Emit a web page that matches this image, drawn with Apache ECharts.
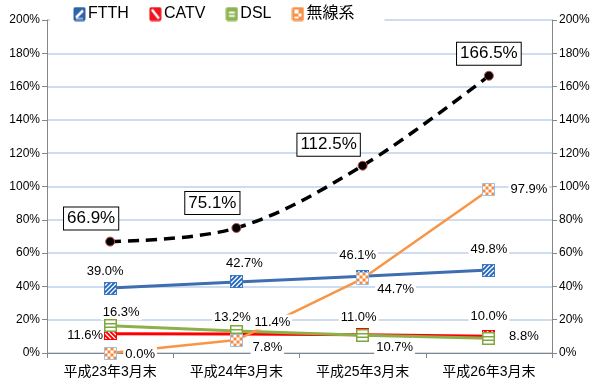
<!DOCTYPE html>
<html><head><meta charset="utf-8">
<script src="https://cdn.jsdelivr.net/npm/echarts@6/dist/echarts.min.js"></script>
<style>html,body{margin:0;padding:0;background:#fff}#c{width:600px;height:384px}</style>
</head><body><div id="c"></div>
<script>
const categories = ['平成23年3月末','平成24年3月末','平成25年3月末','平成26年3月末'];
const ftth = [39.0, 42.7, 46.1, 49.8];
const catv = [11.6, 11.4, 11.0, 10.0];
const dsl = [16.3, 13.2, 10.7, 8.8];
const wireless = [0.0, 7.8, 44.7, 97.9];
const total = [66.9, 75.1, 112.5, 166.5];
const seriesNames = ['FTTH','CATV','DSL','無線系'];
const yTicks = {min: 0, max: 200, interval: 20};

// label offsets (styling)
const offFTTH = [[-5,-17],[8,-18],[-5,-21],[0,-21]];
const offCATV = [[-25,2],[36,-12],[-4,-17],[0,-20]];
const offDSL = [[11,-13],[-4,-14],[32,12],[35,-2]];
const offWL = [[30,1],[31,7],[33,11],[40,-1]];
const offTot = [[-19,-23],[-24,-25],[-34,-21],[0,-22]];

function roundRect(g, x, y, w, h, r) {
  g.beginPath();
  g.moveTo(x + r, y); g.lineTo(x + w - r, y); g.quadraticCurveTo(x + w, y, x + w, y + r);
  g.lineTo(x + w, y + h - r); g.quadraticCurveTo(x + w, y + h, x + w - r, y + h);
  g.lineTo(x + r, y + h); g.quadraticCurveTo(x, y + h, x, y + h - r);
  g.lineTo(x, y + r); g.quadraticCurveTo(x, y, x + r, y); g.closePath();
}

function legendIcon(kind) {
  const w = 13, h = 15;
  const c = document.createElement('canvas'); c.width = w; c.height = h;
  const g = c.getContext('2d');
  const col = { ftth: '#2F63A8', catv: '#F0141E', dsl: '#8FB352', wl: '#F7924A' }[kind];
  roundRect(g, 0.5, 0.5, w - 1, h - 1, 2); g.fillStyle = col; g.fill();
  g.strokeStyle = '#fff'; g.fillStyle = '#fff';
  if (kind === 'ftth') {
    g.lineWidth = 2.5; g.beginPath(); g.moveTo(3, h - 4); g.lineTo(w - 3, 4); g.stroke();
    g.lineWidth = 1; g.beginPath(); g.moveTo(3, h-3); g.lineTo(w-3, h-3); g.stroke();
  } else if (kind === 'catv') {
    g.lineWidth = 2.5; g.beginPath(); g.moveTo(3, 3); g.lineTo(w - 3, h - 3); g.stroke();
  } else if (kind === 'dsl') {
    g.fillRect(3.5, 5, w - 7, 1.8);
    g.fillRect(3.5, 8.5, w - 7, 1.8);
  } else {
    g.fillRect(3, 3, 4, 4);
    g.fillRect(7, 7, 3, 3);
    g.fillRect(3, 10, 4, 2);
  }
  return 'image://' + c.toDataURL();
}

// vector marker drawn through the category/value axes
const MS = 13;
function markerRender(kind) {
  return function (params, api) {
    const p = api.coord([api.value(0), api.value(1)]);
    const x0 = Math.round(p[0] - MS / 2), y0 = Math.round(p[1] - MS / 2);
    const ch = [];
    if (kind === 'ftth' || kind === 'catv') {
      const col = kind === 'ftth' ? '#2368BA' : '#FF0000';
      ch.push({ type: 'rect', shape: { x: x0, y: y0, width: MS, height: MS }, style: { fill: col } });
      const ix = x0 + 1, iy = y0 + 1, is = MS - 2;
      for (let d = 2.5; d < 2 * is; d += 4.5) {
        let a, b;
        if (d <= is) { a = [ix, iy + d]; b = [ix + d, iy]; }
        else { a = [ix + d - is, iy + is]; b = [ix + is, iy + d - is]; }
        if (kind === 'catv') { a = [2 * ix + is - a[0], a[1]]; b = [2 * ix + is - b[0], b[1]]; }
        ch.push({ type: 'line', shape: { x1: a[0], y1: a[1], x2: b[0], y2: b[1] },
          style: { stroke: '#fff', lineWidth: 1.15 } });
      }
      ch.push({ type: 'rect', shape: { x: x0 + 0.5, y: y0 + 0.5, width: MS - 1, height: MS - 1 },
        style: { fill: null, stroke: kind === 'ftth' ? '#3D7CC6' : '#FF0000', lineWidth: 1 } });
    } else if (kind === 'dsl') {
      ch.push({ type: 'rect', shape: { x: x0 + 0.75, y: y0 + 0.75, width: MS - 1.5, height: MS - 1.5 },
        style: { fill: '#fff', stroke: '#7FA83C', lineWidth: 1.5 } });
      ch.push({ type: 'rect', shape: { x: x0 + 1, y: y0 + 4, width: MS - 2, height: 1.5 }, style: { fill: '#7FA83C' } });
      ch.push({ type: 'rect', shape: { x: x0 + 1, y: y0 + 7.5, width: MS - 2, height: 1.5 }, style: { fill: '#7FA83C' } });
    } else {
      ch.push({ type: 'rect', shape: { x: x0, y: y0, width: MS, height: MS }, style: { fill: '#fff' } });
      const cs = (MS - 1) / 4;
      for (let r = 0; r < 4; r++) for (let q = 0; q < 4; q++) {
        if ((r + q) % 2 === 0) ch.push({ type: 'rect',
          shape: { x: x0 + 0.5 + q * cs, y: y0 + 0.5 + r * cs, width: cs, height: cs }, style: { fill: '#F58A3C' } });
      }
      ch.push({ type: 'rect', shape: { x: x0 + 0.5, y: y0 + 0.5, width: MS - 1, height: MS - 1 },
        style: { fill: null, stroke: '#9DBFE6', lineWidth: 1 } });
    }
    return { type: 'group', children: ch };
  };
}

const font = '"Liberation Sans", Arial, "Noto Sans CJK JP", sans-serif';
function lblData(vals, offs) {
  return vals.map((v, i) => ({ value: v, label: { offset: offs[i] } }));
}
const baseLabel = {
  show: true, position: 'inside', align: 'center', verticalAlign: 'middle',
  fontFamily: font, fontSize: 13, color: '#000',
  backgroundColor: '#fff', padding: [1, 2],
  formatter: p => p.value.toFixed(1) + '%'
};

function lineSeries(name, vals, offs, color, width) {
  return {
    name, type: 'line', data: lblData(vals, offs),
    symbol: 'rect', symbolSize: 2,
    lineStyle: { color, width: width || 3 },
    itemStyle: { color },
    label: baseLabel,
    emphasis: { disabled: true }, z: 2
  };
}
function markerSeries(name, vals, kind) {
  return {
    name: name + '_marker', type: 'custom', renderItem: markerRender(kind),
    data: vals.map((v, i) => [i, v]), encode: { x: 0, y: 1 },
    silent: true, clip: false, z: 4
  };
}

const chart = echarts.init(document.getElementById('c'), null, { renderer: 'canvas' });
const option = {
  animation: false,
  grid: { left: 47, right: 48, top: 20, bottom: 31 },
  legend: {
    data: [
      { name: 'FTTH', icon: legendIcon('ftth') },
      { name: 'CATV', icon: legendIcon('catv') },
      { name: 'DSL', icon: legendIcon('dsl') },
      { name: '無線系', icon: legendIcon('wl') }
    ],
    left: 50, top: 3, itemWidth: 13, itemHeight: 15, itemGap: 20,
    backgroundColor: '#fff', padding: [3, 30, 3, 23],
    textStyle: { fontFamily: font, fontSize: 16, color: '#000', padding: [0,0,0,-3] },
    selectedMode: false
  },
  xAxis: {
    type: 'category', data: categories, boundaryGap: true,
    axisLine: { lineStyle: { color: '#868686', width: 1 } },
    axisTick: { show: true, length: 5, lineStyle: { color: '#868686' } },
    axisLabel: { fontFamily: font, fontSize: 14, color: '#000', margin: 12 }
  },
  yAxis: [
    {
      type: 'value', min: yTicks.min, max: yTicks.max, interval: yTicks.interval, position: 'left',
      axisLine: { show: true, lineStyle: { color: '#868686' } },
      axisTick: { show: true, length: 5, lineStyle: { color: '#868686' } },
      axisLabel: { fontFamily: font, fontSize: 12, color: '#000', formatter: '{value}%', margin: 7 },
      splitLine: { lineStyle: { color: '#BCD0EA', width: 1.5 } }
    },
    {
      type: 'value', min: yTicks.min, max: yTicks.max, interval: yTicks.interval, position: 'right',
      axisLine: { show: true, lineStyle: { color: '#868686' } },
      axisTick: { show: true, length: 5, lineStyle: { color: '#868686' } },
      axisLabel: { fontFamily: font, fontSize: 12, color: '#000', formatter: '{value}%', margin: 7 },
      splitLine: { show: false }
    }
  ],
  series: [
    lineSeries('FTTH', ftth, offFTTH, '#3E6DB0', 3),
    lineSeries('CATV', catv, offCATV, '#FF0000', 3),
    lineSeries('DSL', dsl, offDSL, '#8DB04A', 3),
    lineSeries('無線系', wireless, offWL, '#F79646', 2.5),
    markerSeries('FTTH', ftth, 'ftth'),
    markerSeries('CATV', catv, 'catv'),
    markerSeries('DSL', dsl, 'dsl'),
    markerSeries('無線系', wireless, 'wl'),
    {
      name: '合計', type: 'line', data: lblData(total, offTot), smooth: 0.35,
      symbol: 'circle', symbolSize: 9,
      itemStyle: { color: '#000', borderColor: '#C0504D', borderWidth: 1 },
      lineStyle: { color: '#000', width: 3.5, type: [11, 7] },
      label: Object.assign({}, baseLabel, {
        fontSize: 17, borderColor: '#000', borderWidth: 1, padding: [3, 3, 2, 3]
      }),
      emphasis: { disabled: true }, z: 5
    }
  ]
};
chart.setOption(option);
</script></body></html>
